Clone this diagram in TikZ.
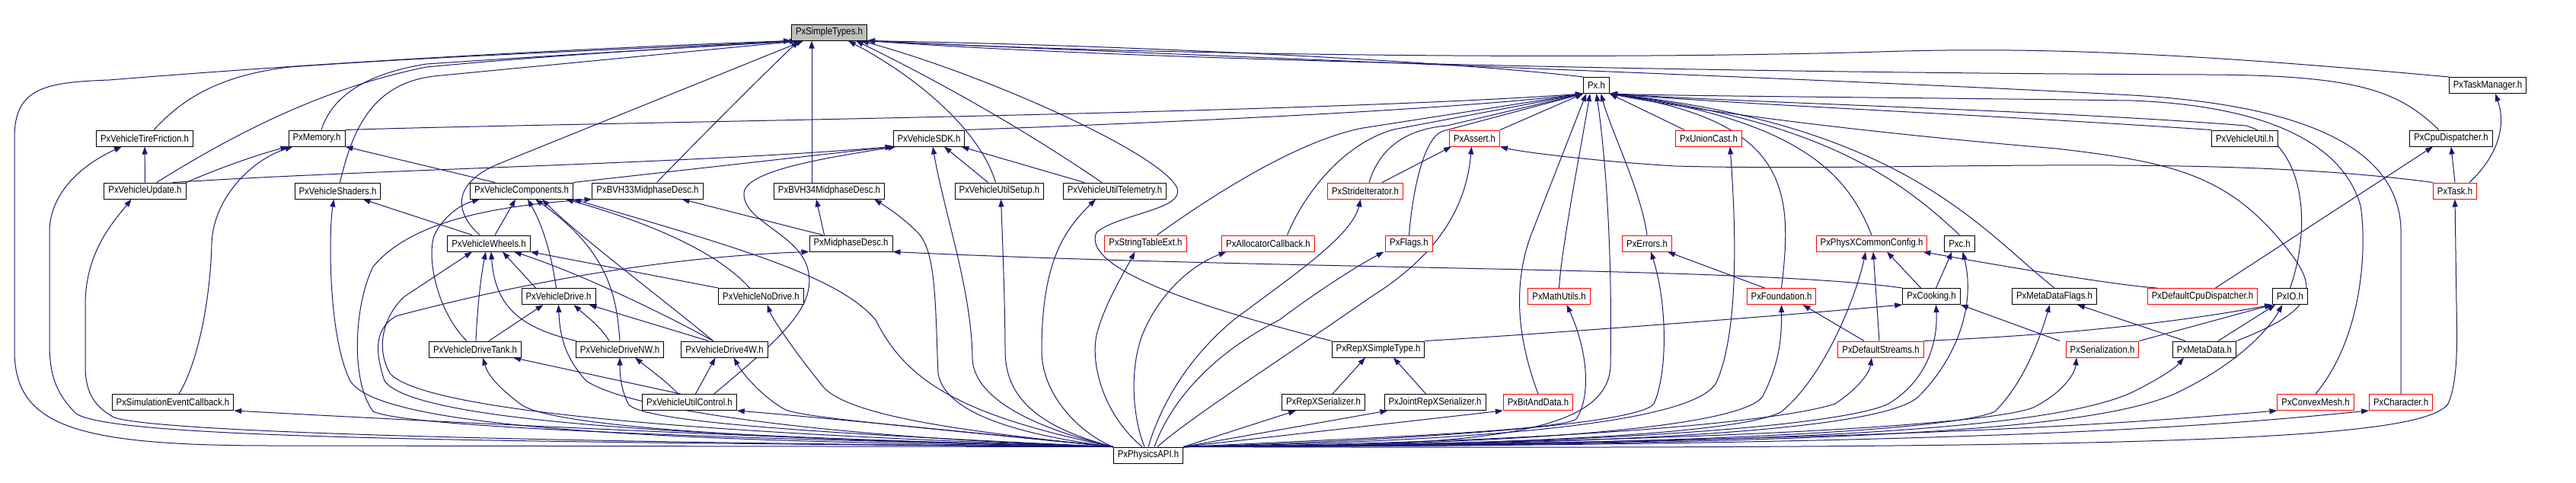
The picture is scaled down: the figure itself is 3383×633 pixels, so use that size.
\documentclass[tikz,border=0pt]{standalone}
\usepackage{fontspec}
\setmainfont{Liberation Sans}[FakeStretch=0.875]
\usetikzlibrary{arrows.meta,backgrounds}
\definecolor{incblue}{HTML}{191970}
\definecolor{hdrred}{HTML}{FF0000}
\definecolor{stgray}{HTML}{BFBFBF}
\tikzset{
  hdr/.style={draw=black, line width=1pt, fill=white, inner xsep=5.5pt, inner ysep=0pt,
    minimum height=21pt, font={\fontsize{13}{15}\selectfont}},
  hdrmiss/.style={hdr, draw=hdrred},
  inc/.style={draw=incblue, line width=1pt, -{Triangle[length=10pt,width=7pt]}},
}
\begin{document}
\begin{tikzpicture}[x=1pt,y=1pt]
\useasboundingbox (0,0) rectangle (3383,-633);
% header files, one row per rank
\node[hdr, fill=stgray] (st) at (1089,-42.5) {PxSimpleTypes.h};
\node[hdr] (px) at (2096.5,-112) {Px.h};
\node[hdr] (taskmgr) at (3267,-112) {PxTaskManager.h};
\node[hdr] (tirefr) at (190,-181.5) {PxVehicleTireFriction.h};
\node[hdr] (memory) at (416,-181.5) {PxMemory.h};
\node[hdr] (vsdk) at (1220,-181.5) {PxVehicleSDK.h};
\node[hdrmiss] (assert) at (1936.5,-181.5) {PxAssert.h};
\node[hdrmiss] (unioncast) at (2244,-181.5) {PxUnionCast.h};
\node[hdr] (vutil) at (2948,-181.5) {PxVehicleUtil.h};
\node[hdr] (cpudisp) at (3219,-181.5) {PxCpuDispatcher.h};
\node[hdr] (vupdate) at (190.5,-250.5) {PxVehicleUpdate.h};
\node[hdr] (vshaders) at (443.5,-250.5) {PxVehicleShaders.h};
\node[hdr] (vcomp) at (685,-250.5) {PxVehicleComponents.h};
\node[hdr] (bvh33) at (850.5,-250.5) {PxBVH33MidphaseDesc.h};
\node[hdr] (bvh34) at (1089,-250.5) {PxBVH34MidphaseDesc.h};
\node[hdr] (vusetup) at (1312.5,-250.5) {PxVehicleUtilSetup.h};
\node[hdr] (vutelem) at (1464,-250.5) {PxVehicleUtilTelemetry.h};
\node[hdrmiss] (strideit) at (1793,-250.5) {PxStrideIterator.h};
\node[hdrmiss] (task) at (3224,-250.5) {PxTask.h};
\node[hdr] (vwheels) at (642,-319.5) {PxVehicleWheels.h};
\node[hdr] (midphase) at (1117.5,-319.5) {PxMidphaseDesc.h};
\node[hdrmiss] (strtab) at (1504.5,-319.5) {PxStringTableExt.h};
\node[hdrmiss] (alloccb) at (1665.5,-319.5) {PxAllocatorCallback.h};
\node[hdrmiss] (flags) at (1850.5,-319.5) {PxFlags.h};
\node[hdrmiss] (errors) at (2163,-319.5) {PxErrors.h};
\node[hdrmiss] (commoncfg) at (2458,-319.5) {PxPhysXCommonConfig.h};
\node[hdr] (pxc) at (2573.5,-319.5) {Pxc.h};
\node[hdr] (vdrive) at (733.5,-389) {PxVehicleDrive.h};
\node[hdr] (vnodrive) at (999.5,-389) {PxVehicleNoDrive.h};
\node[hdrmiss] (mathutils) at (2047.5,-389) {PxMathUtils.h};
\node[hdrmiss] (foundation) at (2339.5,-389) {PxFoundation.h};
\node[hdr] (cooking) at (2536.5,-389) {PxCooking.h};
\node[hdr] (mdflags) at (2698,-389) {PxMetaDataFlags.h};
\node[hdrmiss] (defcpu) at (2892.5,-389) {PxDefaultCpuDispatcher.h};
\node[hdr] (io) at (3007.5,-389) {PxIO.h};
\node[hdr] (vdtank) at (624,-458.5) {PxVehicleDriveTank.h};
\node[hdr] (vdnw) at (814,-458.5) {PxVehicleDriveNW.h};
\node[hdr] (vd4w) at (951.5,-458.5) {PxVehicleDrive4W.h};
\node[hdr] (repxst) at (1810,-458.5) {PxRepXSimpleType.h};
\node[hdrmiss] (defstreams) at (2470,-458.5) {PxDefaultStreams.h};
\node[hdrmiss] (serial) at (2761,-458.5) {PxSerialization.h};
\node[hdr] (metadata) at (2895,-458.5) {PxMetaData.h};
\node[hdr] (simevcb) at (227,-528) {PxSimulationEventCallback.h};
\node[hdr] (vuctrl) at (905.5,-528) {PxVehicleUtilControl.h};
\node[hdr] (repxser) at (1738,-528) {PxRepXSerializer.h};
\node[hdr] (jointrepx) at (1884.5,-528) {PxJointRepXSerializer.h};
\node[hdrmiss] (bitdata) at (2020,-528) {PxBitAndData.h};
\node[hdrmiss] (convex) at (3041,-528) {PxConvexMesh.h};
\node[hdrmiss] (character) at (3153,-528) {PxCharacter.h};
\node[hdr] (api) at (1508,-597.5) {PxPhysicsAPI.h};
\begin{scope}[on background layer]
\fill[white] (0,0) rectangle (3383,-633);
% includers of PxSimpleTypes.h
\draw[inc] (api.north west) -- (360,-585) .. controls (100,-585) and (19,-560) .. (19,-460) -- (19,-180) .. controls (19,-115) and (60,-108) .. (143,-105) .. controls (450,-80) and (800,-62) .. (st.south west);
\draw[inc] ([xshift=12pt]tirefr.north) .. controls (235,-135) and (280,-100) .. (380,-88) .. controls (600,-72) and (900,-62) .. (st.south west);
\draw[inc] ([xshift=15pt]vupdate.north) .. controls (270,-200) and (400,-120) .. (560,-88) .. controls (750,-70) and (950,-60) .. ([xshift=8pt]st.south west);
\draw[inc] ([xshift=6pt]memory.north) .. controls (432,-140) and (460,-100) .. (560,-84) .. controls (800,-68) and (950,-60) .. ([xshift=8pt]st.south west);
\draw[inc] ([xshift=3pt]vshaders.north) .. controls (465,-160) and (495,-105) .. (580,-99) -- ([xshift=14pt]st.south west);
\draw[inc] ([xshift=-12pt]vwheels.north) .. controls (598,-280) and (590,-240) .. (660,-213) -- ([xshift=16pt]st.south west);
\draw[inc] ([xshift=12pt]bvh33.north) .. controls (930,-170) and (1000,-100) .. ([xshift=-40pt]st.south);
\draw[inc] ([xshift=-23pt]bvh34.north) -- ([xshift=-23pt]st.south);
\draw[inc] ([xshift=-5pt]vusetup.north) .. controls (1290,-180) and (1220,-110) .. ([xshift=-25pt]st.south east);
\draw[inc] ([xshift=-17pt]vutelem.north) .. controls (1360,-180) and (1250,-115) .. ([xshift=-15pt]st.south east);
\draw[inc] (repxst.north west) .. controls (1560,-400) and (1420,-350) .. (1440,-305) .. controls (1470,-280) and (1560,-275) .. (1545,-245) .. controls (1520,-200) and (1300,-100) .. ([xshift=-8pt]st.south east);
\draw[inc] (px.north west) .. controls (1900,-80) and (1500,-60) .. (st.south east);
\draw[inc] (taskmgr.north west) .. controls (2900,-72) and (2700,-62) .. (2500,-67) .. controls (2100,-80) and (1500,-72) .. (st.south east);
\draw[inc] ([xshift=-16pt]cpudisp.north) .. controls (3150,-120) and (3100,-99) .. (2900,-98) .. controls (2300,-96) and (1500,-80) .. (st.south east);
\draw[inc] (character.north) -- (3153,-300) .. controls (3150,-210) and (3060,-140) .. (2800,-125) .. controls (2400,-103) and (1600,-75) .. (st.south east);
% includers of Px.h
\draw[inc] (memory.north east) .. controls (700,-162) and (1700,-150) .. (px.south west);
\draw[inc] (vsdk.north east) .. controls (1500,-162) and (1900,-145) .. (px.south west);
\draw[inc] (assert.north east) -- (px.south west);
\draw[inc] ([xshift=5pt]strideit.north) .. controls (1810,-200) and (1840,-170) .. (1900,-165) -- (px.south west);
\draw[inc] ([xshift=15pt]strtab.north) .. controls (1580,-265) and (1700,-185) .. (1790,-168) -- (px.south west);
\draw[inc] ([xshift=25pt]alloccb.north) .. controls (1710,-260) and (1760,-190) .. (1830,-170) -- (px.south west);
\draw[inc] (flags.north) .. controls (1855,-250) and (1870,-180) .. (1895,-172) -- (px.south west);
\draw[inc] (bitdata.north) .. controls (1995,-450) and (1985,-380) .. (2010,-310) -- ([xshift=4pt]px.south west);
\draw[inc] (mathutils.north) .. controls (2050,-330) and (2075,-200) .. ([xshift=9pt]px.south west);
\draw[inc] (api.north east) .. controls (1900,-585) and (2112,-580) .. (2115,-480) .. controls (2118,-300) and (2105,-180) .. (px.south);
\draw[inc] (errors.north) .. controls (2155,-250) and (2115,-170) .. ([xshift=6pt]px.south);
\draw[inc] ([xshift=12pt]unioncast.north west) -- (px.south east);
\draw[inc] (foundation.north) .. controls (2355,-250) and (2350,-160) .. (px.south east);
\draw[inc] (commoncfg.north) .. controls (2430,-240) and (2380,-160) .. (px.south east);
\draw[inc] (pxc.north) .. controls (2500,-240) and (2400,-160) .. (px.south east);
\draw[inc] (mdflags.north) .. controls (2600,-300) and (2500,-165) .. (px.south east);
\draw[inc] (vutil.north west) .. controls (2600,-150) and (2300,-138) .. (px.south east);
\draw[inc] (io.north) .. controls (3035,-300) and (3030,-190) .. (2950,-165) .. controls (2700,-145) and (2300,-135) .. (px.south east);
\draw[inc] (metadata.north east) .. controls (3060,-400) and (3040,-370) .. (2990,-310) .. controls (2920,-230) and (2850,-212) .. (2700,-195) .. controls (2400,-170) and (2200,-140) .. (px.south east);
\draw[inc] (convex.north) .. controls (3105,-440) and (3108,-320) .. (3100,-270) .. controls (3080,-200) and (3000,-140) .. (2800,-132) .. controls (2500,-128) and (2200,-126) .. (px.south east);
% vehicle headers
\draw[inc] (vupdate) -- (tirefr);
\draw[inc] (vupdate.north east) .. controls (270,-228) and (330,-205) .. (memory.south west);
\draw[inc] ([xshift=8pt]simevcb.north) .. controls (258,-480) and (276,-400) .. (278,-320) .. controls (280,-260) and (330,-210) .. ([xshift=6pt]memory.south west);
\draw[inc] ([xshift=-35pt]vcomp.north) -- (memory.south east);
\draw[inc] ([xshift=-18pt]vupdate.north east) .. controls (500,-222) and (900,-215) .. (vsdk.south west);
\draw[inc] (vcomp.north east) -- (vsdk.south west);
\draw[inc] ([xshift=-30pt]vuctrl.north east) .. controls (1030,-440) and (1075,-400) .. (1060,-350) .. controls (1045,-305) and (975,-290) .. (977,-253) .. controls (980,-222) and (1100,-205) .. ([xshift=4pt]vsdk.south west);
\draw[inc] (api.north west) .. controls (1350,-560) and (1278,-520) .. (1277,-470) .. controls (1276,-380) and (1240,-280) .. ([xshift=5pt]vsdk.south);
\draw[inc] ([xshift=-15pt]vusetup.north) -- ([xshift=20pt]vsdk.south);
\draw[inc] ([xshift=-40pt]vutelem.north) -- ([xshift=-5pt]vsdk.south east);
\draw[inc] (api.north west) .. controls (1360,-560) and (1320,-520) .. (1320,-460) .. controls (1320,-400) and (1316,-300) .. ([xshift=2pt]vusetup.south);
\draw[inc] (api.north west) .. controls (1420,-570) and (1368,-520) .. (1368,-460) .. controls (1368,-340) and (1400,-300) .. ([xshift=-25pt]vutelem.south);
\draw[inc] ([xshift=-22pt]vwheels.north) -- ([xshift=33pt]vshaders.south);
\draw[inc] (api.north west) .. controls (900,-580) and (500,-565) .. (460,-500) .. controls (430,-440) and (432,-300) .. ([xshift=-5pt]vshaders.south);
\draw[inc] ([xshift=8pt]vwheels.north) -- ([xshift=-8pt]vcomp.south);
\draw[inc] ([xshift=-11pt]vdtank.north) .. controls (575,-410) and (560,-340) .. (570,-310) .. controls (578,-290) and (600,-270) .. ([xshift=-55pt]vcomp.south);
\draw[inc] ([xshift=-3pt]vdrive.north) .. controls (725,-340) and (715,-300) .. ([xshift=8pt]vcomp.south);
\draw[inc] (vdnw.north) .. controls (810,-390) and (800,-330) .. ([xshift=18pt]vcomp.south);
\draw[inc] ([xshift=-15pt]vd4w.north) .. controls (880,-400) and (760,-310) .. ([xshift=27pt]vcomp.south);
\draw[inc] ([xshift=-15pt]vnodrive.north) .. controls (950,-340) and (880,-300) .. ([xshift=58pt]vcomp.south);
\draw[inc] (api.north west) .. controls (1260,-545) and (1190,-500) .. (1150,-420) .. controls (1100,-360) and (950,-320) .. (vcomp.south east);
\draw[inc] ([xshift=-37pt]midphase.north) -- ([xshift=45pt]bvh33.south);
\draw[inc] ([xshift=-35pt]midphase.north) -- ([xshift=-17pt]bvh34.south);
\draw[inc] (cooking.north west) .. controls (2300,-350) and (1700,-355) .. (midphase.south east);
\draw[inc] (api.north west) .. controls (900,-575) and (530,-560) .. (490,-540) .. controls (460,-500) and (465,-400) .. (490,-350) .. controls (540,-290) and (650,-270) .. (bvh33.south west);
\draw[inc] (api.north west) .. controls (1330,-570) and (1240,-540) .. (1232,-490) .. controls (1228,-400) and (1230,-330) .. (1205,-305) .. controls (1185,-285) and (1165,-272) .. ([xshift=-14pt]bvh34.south east);
\draw[inc] (api.north west) .. controls (1000,-575) and (548,-560) .. (505,-500) .. controls (490,-455) and (495,-430) .. (520,-415) .. controls (650,-380) and (850,-338) .. (midphase.south west);
\draw[inc] ([xshift=-30pt]vdrive.north) -- ([xshift=18pt]vwheels.south);
\draw[inc] ([xshift=1pt]vdtank.north) .. controls (627,-400) and (632,-360) .. ([xshift=-4pt]vwheels.south);
\draw[inc] ([xshift=-57pt]vdnw.north) .. controls (680,-430) and (650,-400) .. ([xshift=3pt]vwheels.south);
\draw[inc] ([xshift=-15pt]vd4w.north) .. controls (850,-400) and (750,-355) .. ([xshift=33pt]vwheels.south);
\draw[inc] (vnodrive.north west) -- (vwheels.south east);
\draw[inc] (api.north west) .. controls (1000,-572) and (560,-545) .. (512,-490) .. controls (495,-460) and (500,-420) .. (530,-390) -- ([xshift=-22pt]vwheels.south);
\draw[inc] ([xshift=18pt]vdtank.north) -- ([xshift=-20pt]vdrive.south);
\draw[inc] ([xshift=-14pt]vdnw.north) .. controls (790,-430) and (770,-415) .. ([xshift=20pt]vdrive.south);
\draw[inc] ([xshift=-21pt]vd4w.north) -- ([xshift=40pt]vdrive.south);
\draw[inc] (api.north west) .. controls (1100,-575) and (830,-540) .. (770,-500) .. controls (742,-470) and (735,-440) .. (vdrive.south);
\draw[inc] (api.north west) .. controls (1250,-565) and (1120,-545) .. (1083,-510) .. controls (1050,-470) and (1015,-420) .. ([xshift=8pt]vnodrive.south);
\draw[inc] ([xshift=-12pt]vuctrl.north) -- ([xshift=50pt]vdtank.south);
\draw[inc] ([xshift=-15pt]vuctrl.north) .. controls (880,-505) and (860,-490) .. ([xshift=20pt]vdnw.south);
\draw[inc] ([xshift=8pt]vuctrl.north) -- ([xshift=-12pt]vd4w.south);
\draw[inc] (api.north west) .. controls (1000,-578) and (720,-560) .. (683,-530) .. controls (650,-505) and (640,-490) .. ([xshift=10pt]vdtank.south);
\draw[inc] (api.north west) .. controls (1100,-570) and (840,-555) .. (825,-530) .. controls (815,-510) and (814,-490) .. (vdnw.south);
\draw[inc] (api.north west) .. controls (1200,-560) and (1050,-548) .. (1030,-537) .. controls (1000,-520) and (975,-490) .. ([xshift=12pt]vd4w.south);
\draw[inc] (api.north west) .. controls (1300,-570) and (1100,-550) .. (vuctrl.south east);
\draw[inc] (api.north west) .. controls (1100,-580) and (600,-555) .. (simevcb.south east);
\draw[inc] (api.north west) .. controls (600,-580) and (150,-575) .. (100,-543) .. controls (72,-515) and (65,-490) .. (65,-450) -- (65,-300) .. controls (68,-250) and (110,-215) .. ([xshift=-30pt]tirefr.south);
\draw[inc] (api.north west) .. controls (600,-580) and (200,-565) .. (150,-548) .. controls (120,-532) and (112,-510) .. (112,-480) -- (112,-400) .. controls (112,-330) and (150,-290) .. ([xshift=-18pt]vupdate.south);
% foundation, cooking and serialization headers
\draw[inc] ([xshift=22pt]strideit.north) -- ([xshift=3pt]assert.south west);
\draw[inc] (api.north) .. controls (1525,-530) and (1560,-470) .. (1620,-420) .. controls (1700,-360) and (1775,-310) .. ([xshift=-6pt]strideit.south);
\draw[inc] ([xshift=-8pt]api.north) .. controls (1450,-545) and (1432,-480) .. (1440,-440) .. controls (1450,-400) and (1475,-360) .. ([xshift=-14pt]strtab.south);
\draw[inc] ([xshift=-5pt]api.north) .. controls (1485,-540) and (1485,-480) .. (1500,-440) .. controls (1520,-390) and (1560,-350) .. ([xshift=-55pt]alloccb.south);
\draw[inc] ([xshift=8pt]api.north) .. controls (1540,-520) and (1600,-460) .. (1680,-420) .. controls (1740,-375) and (1790,-345) .. ([xshift=-33pt]flags.south);
\draw[inc] ([xshift=12pt]api.north) .. controls (1560,-550) and (1700,-460) .. (1800,-390) .. controls (1880,-340) and (1925,-280) .. ([xshift=-4pt]assert.south);
\draw[inc] (task.north west) .. controls (2900,-200) and (2500,-226) .. (2200,-218) .. controls (2100,-212) and (2000,-200) .. (assert.south east);
\draw[inc] (api.north east) .. controls (1800,-580) and (2150,-560) .. (2172,-530) .. controls (2190,-490) and (2190,-400) .. ([xshift=5pt]errors.south);
\draw[inc] (api.north east) .. controls (1800,-575) and (2050,-565) .. (2070,-550) .. controls (2090,-520) and (2085,-460) .. ([xshift=10pt]mathutils.south);
\draw[inc] (api.north east) -- (bitdata.south west);
\draw[inc] (api.north east) -- ([xshift=5pt]jointrepx.south west);
\draw[inc] (api.north east) -- ([xshift=19pt]repxser.south west);
\draw[inc] ([xshift=12pt]repxser.north) -- ([xshift=-17pt]repxst.south);
\draw[inc] ([xshift=-12pt]jointrepx.north) -- ([xshift=20pt]repxst.south);
\draw[inc] (repxst.north east) .. controls (2000,-440) and (2300,-418) .. (cooking.south west);
\draw[inc] (api.north east) .. controls (1900,-580) and (2230,-560) .. (2255,-500) .. controls (2280,-440) and (2282,-330) .. ([xshift=28pt]unioncast.south);
\draw[inc] (api.north east) .. controls (2000,-585) and (2290,-560) .. (2315,-520) .. controls (2335,-480) and (2340,-450) .. (foundation.south);
\draw[inc] (api.north east) .. controls (2050,-585) and (2300,-565) .. (2340,-540) .. controls (2400,-490) and (2440,-380) .. ([xshift=-8pt]commoncfg.south);
\draw[inc] ([xshift=-2pt]defstreams.north) -- ([xshift=2pt]commoncfg.south);
\draw[inc] ([xshift=-14pt]cooking.north) -- ([xshift=20pt]commoncfg.south);
\draw[inc] ([xshift=-60pt]defcpu.north) .. controls (2800,-376) and (2700,-362) .. ([xshift=-6pt]commoncfg.south east);
\draw[inc] ([xshift=6pt]cooking.north) -- ([xshift=-10pt]pxc.south);
\draw[inc] (api.north east) .. controls (2200,-585) and (2480,-560) .. (2520,-520) .. controls (2570,-470) and (2595,-400) .. ([xshift=4pt]pxc.south);
\draw[inc] (api.north east) .. controls (2150,-585) and (2430,-555) .. (2480,-530) .. controls (2530,-500) and (2545,-450) .. ([xshift=6pt]cooking.south);
\draw[inc] ([xshift=-56pt]serial.north) -- (cooking.south east);
\draw[inc] (api.north east) .. controls (2100,-580) and (2350,-550) .. (2410,-530) .. controls (2440,-510) and (2455,-490) .. ([xshift=-12pt]defstreams.south);
\draw[inc] ([xshift=-22pt]defstreams.north) -- ([xshift=28pt]foundation.south);
\draw[inc] (defstreams.north east) .. controls (2700,-440) and (2850,-425) .. (io.south west);
\draw[inc] ([xshift=-22pt]foundation.north) -- ([xshift=27pt]errors.south);
\draw[inc] (api.north east) .. controls (2300,-580) and (2620,-555) .. (2670,-535) .. controls (2710,-515) and (2725,-490) .. ([xshift=-34pt]serial.south);
\draw[inc] (serial.north east) -- (io.south west);
\draw[inc] (api.north east) .. controls (2300,-585) and (2580,-560) .. (2620,-540) .. controls (2660,-500) and (2680,-440) .. ([xshift=-6pt]mdflags.south);
\draw[inc] ([xshift=-25pt]metadata.north) -- ([xshift=30pt]mdflags.south);
\draw[inc] ([xshift=18pt]metadata.north) -- ([xshift=4pt]io.south west);
\draw[inc] (api.north east) .. controls (2400,-585) and (2700,-560) .. (2800,-515) .. controls (2830,-500) and (2855,-485) .. ([xshift=-27pt]metadata.south);
\draw[inc] (api.north east) .. controls (2500,-585) and (2780,-560) .. (2870,-510) .. controls (2930,-480) and (2975,-440) .. ([xshift=-10pt]io.south);
\draw[inc] (api.north east) .. controls (2500,-580) and (2800,-555) .. (convex.south west);
\draw[inc] (api.north east) .. controls (2600,-585) and (2900,-560) .. (character.south west);
% task headers
\draw[inc] (api.north east) .. controls (2800,-590) and (3180,-580) .. (3215,-530) .. controls (3228,-500) and (3227,-450) .. (3226,-400) -- (task.south);
\draw[inc] (task.north) -- (cpudisp.south);
\draw[inc] ([xshift=19pt]task.north) .. controls (3285,-200) and (3290,-160) .. ([xshift=10pt]taskmgr.south);
\draw[inc] ([xshift=17pt]defcpu.north) -- ([xshift=-24pt]cpudisp.south);
\end{scope}
\end{tikzpicture}
\end{document}
